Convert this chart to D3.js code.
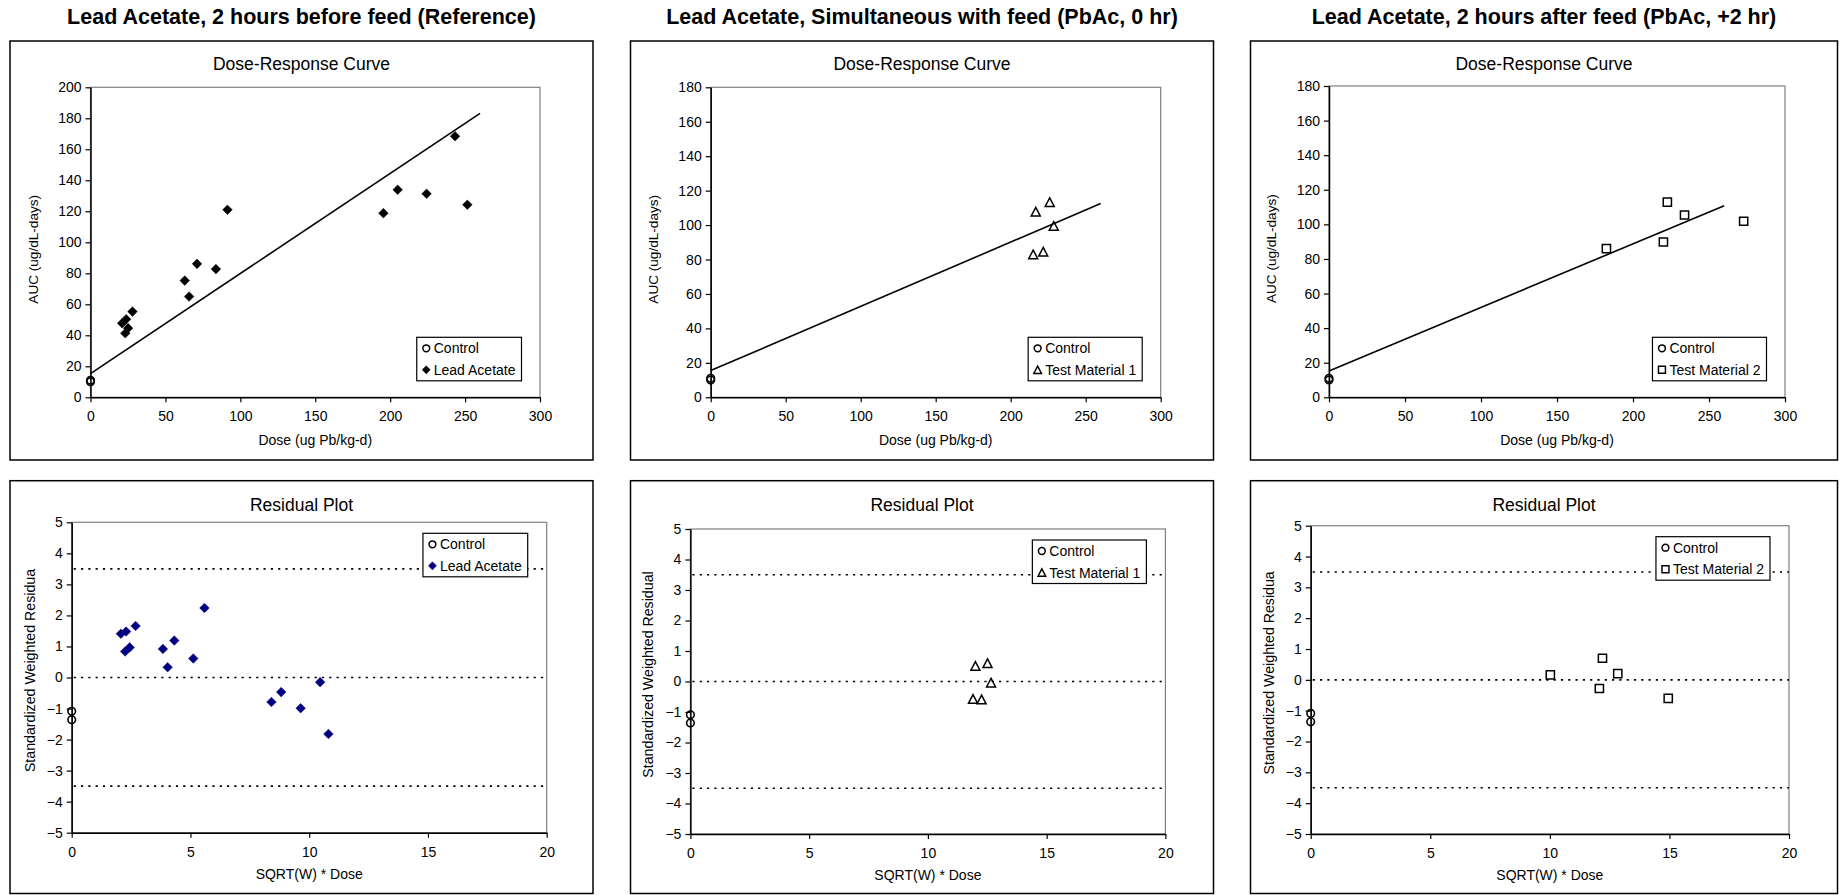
<!DOCTYPE html>
<html><head><meta charset="utf-8">
<script src="https://cdn.jsdelivr.net/npm/d3@7"></script>
<style>
html,body{margin:0;padding:0;background:#fff;}
svg{display:block;font-family:"Liberation Sans",Arial,Helvetica,sans-serif;}
</style></head><body>
<svg id="c" width="1839" height="895"></svg>
<script>
// ================= DATA =================
const panelTitles = [
  "Lead Acetate, 2 hours before feed (Reference)",
  "Lead Acetate, Simultaneous with feed (PbAc, 0 hr)",
  "Lead Acetate, 2 hours after feed (PbAc, +2 hr)"
];
const seriesNames = ["Lead Acetate", "Test Material 1", "Test Material 2"];
const controlName = "Control";
const topChartTitle = "Dose-Response Curve";
const residChartTitle = "Residual Plot";
const doseAxisTitle = "Dose (ug Pb/kg-d)";
const aucAxisTitle = "AUC (ug/dL-days)";
const residXAxisTitle = "SQRT(W) * Dose";
const residYTitles = ["Standardized Weighted Residua", "Standardized Weighted Residual", "Standardized Weighted Residua"];

const doseTicks = [0, 50, 100, 150, 200, 250, 300];
const aucTicks1 = [0, 20, 40, 60, 80, 100, 120, 140, 160, 180, 200];
const aucTicks23 = [0, 20, 40, 60, 80, 100, 120, 140, 160, 180];
const residXTicks = [0, 5, 10, 15, 20];
const residYTicks = [-5, -4, -3, -2, -1, 0, 1, 2, 3, 4, 5];
const residLimits = [-3.5, 0, 3.5];

// control group (same in all three panels)
const controlDose = [0, 0];
const controlAUC = [11, 10];
const controlResidX = [0, 0];
const controlResidY = [-1.09, -1.36];

// Lead acetate (reference)
const leadDose = [21.1, 23.8, 25.1, 23.2, 28, 62.9, 65.8, 71.1, 83.7, 91.4, 195.5, 205, 224.3, 243.3, 251.5];
const leadAUC  = [47.8, 50.4, 44.6, 41.3, 55.3, 75.3, 65, 86.1, 82.7, 121, 118.8, 133.9, 131.3, 168.4, 124.2];
const leadFitDose = [0, 260];
const leadFitAUC  = [15.3, 183.2];
const leadResidX = [2.07, 2.29, 2.25, 2.44, 2.69, 3.84, 4.04, 4.32, 5.12, 5.59, 8.41, 8.82, 9.64, 10.46, 10.81];
const leadResidY = [1.41, 1.48, 0.84, 0.97, 1.66, 0.92, 0.33, 1.19, 0.61, 2.24, -0.79, -0.47, -0.99, -0.15, -1.82];

// Test material 1
const tm1Dose = [216.7, 226, 228.7, 215, 221.7];
const tm1AUC  = [107.8, 113.3, 99.5, 83, 84.5];
const tm1FitDose = [0, 260];
const tm1FitAUC  = [15.5, 112.5];
const tm1ResidX = [12.0, 12.51, 12.66, 11.9, 12.26];
const tm1ResidY = [0.51, 0.60, -0.04, -0.57, -0.59];

// Test material 2
const tm2Dose = [182.5, 220, 222.6, 233.9, 272.8];
const tm2AUC  = [86, 89.8, 112.9, 105.4, 101.8];
const tm2FitDose = [0, 260];
const tm2FitAUC  = [15.2, 110.8];
const tm2ResidX = [10.02, 12.07, 12.2, 12.84, 14.95];
const tm2ResidY = [0.16, -0.28, 0.70, 0.2, -0.60];

// ================= LAYOUT (positions / styles) =================
const layout = [
  { left: 10,     width: 583, top: {x0: 90.5,  x1: 540,    y0: 87.3, y1: 397.3}, res: {x0: 71.7,  x1: 546.7, y0: 522.3, y1: 832.7} },
  { left: 630.5,  width: 583, top: {x0: 710.7, x1: 1160.7, y0: 87.3, y1: 397.3}, res: {x0: 690.4, x1: 1165.4, y0: 529,   y1: 834} },
  { left: 1250.5, width: 587, top: {x0: 1329,  x1: 1785,   y0: 86,   y1: 397.3}, res: {x0: 1310.7,x1: 1789,  y0: 525.7, y1: 834} }
];
const topBox = {y0: 41, y1: 460};
const resBox = {y0: 480.7, y1: 893.5};
const FS = 14;

// ================= BUILD =================
const panels = [
  { aucTicks: aucTicks1, aucMax: 200, marker: "diamond", dose: leadDose, auc: leadAUC, fitD: leadFitDose, fitA: leadFitAUC, rx: leadResidX, ry: leadResidY, resColor: "#000080" },
  { aucTicks: aucTicks23, aucMax: 180, marker: "triangle", dose: tm1Dose, auc: tm1AUC, fitD: tm1FitDose, fitA: tm1FitAUC, rx: tm1ResidX, ry: tm1ResidY, resColor: "#000" },
  { aucTicks: aucTicks23, aucMax: 180, marker: "square", dose: tm2Dose, auc: tm2AUC, fitD: tm2FitDose, fitA: tm2FitAUC, rx: tm2ResidX, ry: tm2ResidY, resColor: "#000" }
];

const svg = d3.select("#c");

function markerPath(type) {
  if (type === "diamond") { const a = 4.8; return `M0,${-a}L${a},0L0,${a}L${-a},0Z`; }
  if (type === "triangle") { const w = 9, h = 8.6; return `M0,${-h/2}L${w/2},${h/2}L${-w/2},${h/2}Z`; }
  if (type === "square") { const s = 4.1; return `M${-s},${-s}H${s}V${s}H${-s}Z`; }
  return d3.symbol(d3.symbolCircle, 50)();
}
function drawMarkers(g, type, xs, ys, sx, sy, color) {
  const pts = xs.map((x, i) => [x, ys[i]]);
  g.selectAll(null).data(pts).enter().append("path")
    .attr("transform", d => `translate(${sx(d[0])},${sy(d[1])})`)
    .attr("d", markerPath(type))
    .attr("fill", type === "diamond" ? color : "none")
    .attr("stroke", color)
    .attr("stroke-width", type === "diamond" ? 0.5 : 1.5)
    .attr("stroke-linejoin", "miter");
}
function drawCircles(g, xs, ys, sx, sy) {
  const pts = xs.map((x, i) => [x, ys[i]]);
  g.selectAll(null).data(pts).enter().append("circle")
    .attr("cx", d => sx(d[0])).attr("cy", d => sy(d[1])).attr("r", 3.8)
    .attr("fill", "none").attr("stroke", "#000").attr("stroke-width", 1.6);
}
function styleAxis(ax) {
  ax.select(".domain").attr("stroke", "#000").attr("stroke-width", 1.5);
  ax.selectAll(".tick line").attr("stroke", "#000").attr("stroke-width", 1.2);
  ax.selectAll(".tick text").attr("font-size", FS).attr("fill", "#000").attr("font-family", null);
}
function drawLegend(g, x1, yTop, yBottom, type, name, color) {
  const lg = g.append("g");
  const rect = lg.append("rect").attr("fill", "#fff").attr("stroke", "#000").attr("stroke-width", 1.2);
  const t1 = lg.append("text").text(controlName).attr("font-size", FS).attr("x", 17).attr("y", 11 + 5);
  const t2 = lg.append("text").text(name).attr("font-size", FS).attr("x", 17).attr("y", 32.5 + 5);
  const w = 17 + Math.max(t1.node().getComputedTextLength(), t2.node().getComputedTextLength()) + 6;
  const h = 43.5;
  rect.attr("width", w).attr("height", h);
  lg.append("circle").attr("cx", 9.5).attr("cy", 11).attr("r", 3.4).attr("fill", "none").attr("stroke", "#000").attr("stroke-width", 1.5);
  lg.append("path").attr("transform", "translate(9.5,32.5) scale(0.85)").attr("d", markerPath(type))
    .attr("fill", type === "diamond" ? color : "none").attr("stroke", color).attr("stroke-width", type === "diamond" ? 0.5 : 1.7);
  const y = yTop != null ? yTop : yBottom - h;
  lg.attr("transform", `translate(${x1 - w},${y})`);
}

panels.forEach((p, i) => {
  const L = layout[i];
  const cx = L.left + L.width / 2;
  // main title
  svg.append("text").attr("x", cx).attr("y", 24.3).attr("text-anchor", "middle")
    .attr("font-size", 21.5).attr("font-weight", "bold").text(panelTitles[i]);

  // ---------- top: dose-response ----------
  const gt = svg.append("g");
  gt.append("rect").attr("x", L.left).attr("y", topBox.y0).attr("width", L.width).attr("height", topBox.y1 - topBox.y0)
    .attr("fill", "#fff").attr("stroke", "#000").attr("stroke-width", 1.5);
  gt.append("text").attr("x", cx).attr("y", 69.5).attr("text-anchor", "middle").attr("font-size", 17.5).text(topChartTitle);
  const T = L.top;
  const sx = d3.scaleLinear().domain([0, 300]).range([T.x0, T.x1]);
  const sy = d3.scaleLinear().domain([0, p.aucMax]).range([T.y1, T.y0]);
  gt.append("rect").attr("x", T.x0).attr("y", T.y0).attr("width", T.x1 - T.x0).attr("height", T.y1 - T.y0)
    .attr("fill", "#fff").attr("stroke", "#808080").attr("stroke-width", 1.2);
  const ax = gt.append("g").attr("transform", `translate(0,${T.y1})`)
    .call(d3.axisBottom(sx).tickValues(doseTicks).tickSize(5).tickSizeOuter(0).tickPadding(9).tickFormat(d3.format("d")));
  styleAxis(ax);
  const ay = gt.append("g").attr("transform", `translate(${T.x0},0)`)
    .call(d3.axisLeft(sy).tickValues(p.aucTicks).tickSize(5).tickSizeOuter(0).tickPadding(4).tickFormat(d3.format("d")));
  styleAxis(ay);
  gt.append("text").attr("x", (T.x0 + T.x1) / 2).attr("y", T.y1 + 48).attr("text-anchor", "middle").attr("font-size", FS).text(doseAxisTitle);
  gt.append("text").attr("transform", `translate(${T.x0 - 58 + 5},${(T.y0 + T.y1) / 2 + 7}) rotate(-90)`)
    .attr("text-anchor", "middle").attr("font-size", 13.6).text(aucAxisTitle);
  // fit line
  const fit = p.fitD.map((d, k) => [d, p.fitA[k]]);
  gt.append("path").attr("d", d3.line().x(d => sx(d[0])).y(d => sy(d[1]))(fit))
    .attr("fill", "none").attr("stroke", "#000").attr("stroke-width", 1.6);
  drawCircles(gt, controlDose, controlAUC, sx, sy);
  drawMarkers(gt, p.marker, p.dose, p.auc, sx, sy, "#000");
  drawLegend(gt, T.x1 - 18.5, null, T.y1 - 16.5, p.marker, seriesNames[i], "#000");

  // ---------- bottom: residual ----------
  const gb = svg.append("g");
  gb.append("rect").attr("x", L.left).attr("y", resBox.y0).attr("width", L.width).attr("height", resBox.y1 - resBox.y0)
    .attr("fill", "#fff").attr("stroke", "#000").attr("stroke-width", 1.5);
  gb.append("text").attr("x", cx).attr("y", 510.5).attr("text-anchor", "middle").attr("font-size", 17.5).text(residChartTitle);
  const R = L.res;
  const rx = d3.scaleLinear().domain([0, 20]).range([R.x0, R.x1]);
  const ry = d3.scaleLinear().domain([-5, 5]).range([R.y1, R.y0]);
  gb.append("rect").attr("x", R.x0).attr("y", R.y0).attr("width", R.x1 - R.x0).attr("height", R.y1 - R.y0)
    .attr("fill", "#fff").attr("stroke", "#808080").attr("stroke-width", 1.2);
  gb.selectAll(null).data(residLimits).enter().append("line")
    .attr("x1", rx(0) + 2).attr("x2", rx(20)).attr("y1", d => ry(d)).attr("y2", d => ry(d))
    .attr("stroke", "#000").attr("stroke-width", 1.6).attr("stroke-dasharray", "2.2,5.1");
  const bx = gb.append("g").attr("transform", `translate(0,${R.y1})`)
    .call(d3.axisBottom(rx).tickValues(residXTicks).tickSize(5).tickSizeOuter(0).tickPadding(9).tickFormat(d3.format("d")));
  styleAxis(bx);
  const by = gb.append("g").attr("transform", `translate(${R.x0},0)`)
    .call(d3.axisLeft(ry).tickValues(residYTicks).tickSize(5).tickSizeOuter(0).tickPadding(4).tickFormat(d3.format("d")));
  styleAxis(by);
  gb.append("text").attr("x", (R.x0 + R.x1) / 2).attr("y", R.y1 + 46).attr("text-anchor", "middle").attr("font-size", FS).text(residXAxisTitle);
  gb.append("text").attr("transform", `translate(${R.x0 - 42 + 5},${(R.y0 + R.y1) / 2 - 7}) rotate(-90)`)
    .attr("text-anchor", "middle").attr("font-size", 14.2).text(residYTitles[i]);
  drawCircles(gb, controlResidX, controlResidY, rx, ry);
  drawMarkers(gb, p.marker, p.rx, p.ry, rx, ry, p.resColor);
  drawLegend(gb, R.x1 - 19, R.y0 + 11, null, p.marker, seriesNames[i], p.resColor);
});
</script>
</body></html>
